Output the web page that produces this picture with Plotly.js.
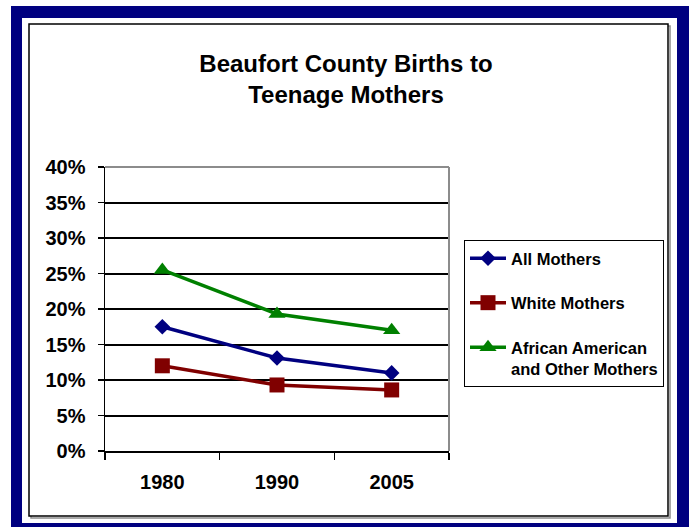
<!DOCTYPE html>
<html>
<head>
<meta charset="utf-8">
<script src="https://cdn.plot.ly/plotly-3.0.1.min.js"></script>
<style>
html,body{margin:0;padding:0;background:#fff;}
#chart{width:689px;height:527px;}
</style>
</head>
<body>
<div id="chart"></div>
<script>
// ---- data ----
const years = ['1980', '1990', '2005'];
const allMothers = [0.175, 0.131, 0.110];
const whiteMothers = [0.120, 0.093, 0.086];
const africanAmericanMothers = [0.255, 0.193, 0.170];
const seriesNames = ['All Mothers', 'White Mothers', 'African American<br>and Other Mothers'];
const yTickVals = [0, 0.05, 0.10, 0.15, 0.20, 0.25, 0.30, 0.35, 0.40];

// ---- geometry helpers (pixels -> paper) ----
const W = 689, Hh = 527;
const L = 105, R = 449, T = 167, B = 451;
const px = x => (x - L) / (R - L);
const py = y => (B - y) / (B - T);

const font = 'Liberation Sans, Arial, sans-serif';

const traces = [
  {name: seriesNames[0], y: allMothers, color: '#000080', symbol: 'diamond', size: 12},
  {name: seriesNames[1], y: whiteMothers, color: '#800000', symbol: 'square', size: 15},
  {name: seriesNames[2], y: africanAmericanMothers, color: '#008000', symbol: 'triangle-up', size: 15}
].map((s, i) => ({
  type: 'scatter',
  mode: 'lines+markers',
  x: years,
  y: s.y,
  name: s.name,
  legendgroup: 'g' + i,
  line: {color: s.color, width: 3.5},
  marker: {color: s.color, symbol: s.symbol, size: s.size, line: {width: 0}},
  cliponaxis: false
}));

const shapes = [
  // navy frame
  {type: 'rect', xref: 'paper', yref: 'paper', x0: px(11), x1: px(689), y0: py(527), y1: py(6),
   fillcolor: '#000080', line: {width: 0}, layer: 'below'},
  {type: 'rect', xref: 'paper', yref: 'paper', x0: px(22), x1: px(677), y0: py(523), y1: py(18),
   fillcolor: '#ffffff', line: {width: 0}, layer: 'below'},
  // panel shadow + border
  {type: 'rect', xref: 'paper', yref: 'paper', x0: px(31), x1: px(670), y0: py(518), y1: py(26),
   fillcolor: 'rgba(0,0,0,0)', line: {color: '#8c8c8c', width: 1.5}, layer: 'below'},
  {type: 'rect', xref: 'paper', yref: 'paper', x0: px(29), x1: px(668), y0: py(516), y1: py(24),
   fillcolor: '#ffffff', line: {color: '#000000', width: 1.5}, layer: 'below'},
  // gray plot-area border top/right
  {type: 'line', xref: 'paper', yref: 'paper', x0: 0, x1: 1, y0: 1, y1: 1,
   line: {color: '#8c8c8c', width: 2}, layer: 'above'},
  {type: 'line', xref: 'paper', yref: 'paper', x0: 1, x1: 1, y0: 0, y1: 1,
   line: {color: '#8c8c8c', width: 2}, layer: 'above'}
];

const layout = {
  width: W, height: Hh,
  margin: {l: L, r: W - R, t: T, b: Hh - B, pad: 0},
  paper_bgcolor: '#ffffff',
  plot_bgcolor: 'rgba(0,0,0,0)',
  font: {family: font, color: '#000000'},
  title: {
    text: '<b>Beaufort County Births to<br>Teenage Mothers</b>',
    font: {family: font, size: 24, color: '#000000'},
    x: 346 / W, xanchor: 'center', xref: 'container',
    y: 1 - 72 / Hh, yanchor: 'top', yref: 'container'
  },
  xaxis: {
    type: 'category',
    range: [-0.5, 2.5],
    showgrid: false,
    showline: true, linecolor: '#000000', linewidth: 1.5,
    ticks: 'outside', tickson: 'boundaries', ticklen: 7, tickcolor: '#000000', tickwidth: 1.5,
    tickfont: {family: font, size: 20, color: '#000000', weight: 'bold'},
    ticklabelstandoff: 12,
    zeroline: false, fixedrange: true
  },
  yaxis: {
    range: [0, 0.4],
    tickvals: yTickVals,
    tickformat: '.0%',
    showgrid: true, gridcolor: '#000000', gridwidth: 2,
    showline: true, linecolor: '#000000', linewidth: 1.5,
    ticks: 'outside', ticklen: 6, tickcolor: '#000000', tickwidth: 1.5,
    tickfont: {family: font, size: 20, color: '#000000', weight: 'bold'},
    ticklabelstandoff: 8,
    zeroline: false, fixedrange: true
  },
  showlegend: true,
  legend: {
    x: px(464), xanchor: 'left', xref: 'paper',
    y: py(240), yanchor: 'top', yref: 'paper',
    bgcolor: '#ffffff', bordercolor: '#000000', borderwidth: 1,
    font: {family: font, size: 16.5, color: '#000000', weight: 'bold'},
    traceorder: 'grouped', tracegroupgap: 20,
    valign: 'top', itemwidth: 36
  },
  shapes: shapes
};

Plotly.newPlot('chart', traces, layout, {staticPlot: true, displayModeBar: false});
</script>
</body>
</html>
